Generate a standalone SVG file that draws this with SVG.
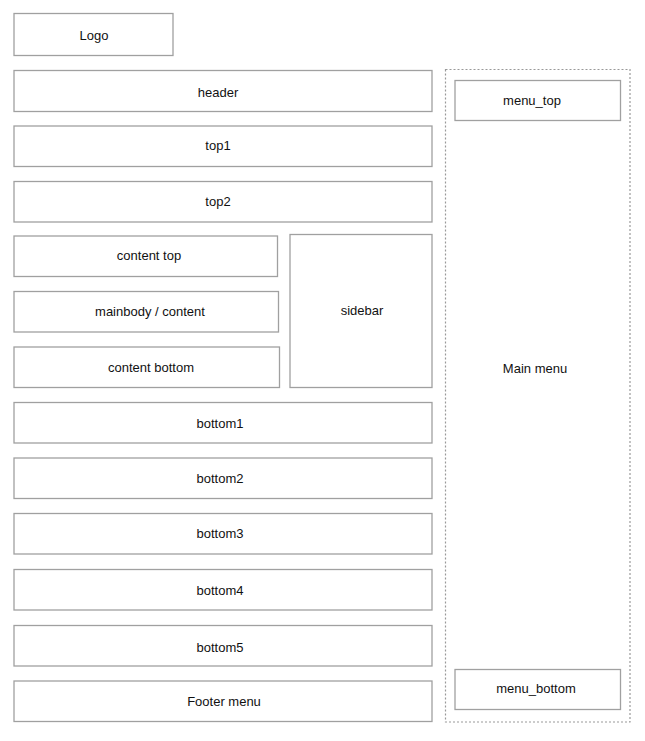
<svg xmlns="http://www.w3.org/2000/svg" width="645" height="741" viewBox="0 0 645 741">
<style>
.b{fill:#fff;stroke:#a0a0a0;stroke-width:1.3}
.d{fill:none;stroke:#999;stroke-width:1.2;stroke-dasharray:2 2}
text{font-family:"Liberation Sans",Arial,sans-serif;font-size:13px;fill:#111;text-anchor:middle;dominant-baseline:central}
</style>
<rect width="645" height="741" fill="#fff"/>
<g id="mainmenu"><rect class="d" x="445.5" y="69.5" width="184.5" height="652.5"/><text x="535" y="368">Main menu</text></g>
<g id="logo"><rect class="b" x="14" y="13.5" width="159" height="42"/><text x="94" y="35">Logo</text></g>
<g id="header"><rect class="b" x="14" y="70.5" width="418" height="41"/><text x="218" y="92">header</text></g>
<g id="top1"><rect class="b" x="14" y="126" width="418" height="40.5"/><text x="218" y="145">top1</text></g>
<g id="top2"><rect class="b" x="14" y="181.5" width="418" height="40.5"/><text x="218" y="201">top2</text></g>
<g id="contenttop"><rect class="b" x="14" y="236" width="263.5" height="40.5"/><text x="149" y="255">content top</text></g>
<g id="mainbody"><rect class="b" x="14" y="291.5" width="264.5" height="40.5"/><text x="150" y="311">mainbody / content</text></g>
<g id="contentbottom"><rect class="b" x="14" y="347" width="265.5" height="40.5"/><text x="151" y="367">content bottom</text></g>
<g id="sidebar"><rect class="b" x="290" y="234.5" width="142" height="153"/><text x="362" y="310">sidebar</text></g>
<g id="bottom1"><rect class="b" x="14" y="402.5" width="418" height="40.5"/><text x="220" y="423">bottom1</text></g>
<g id="bottom2"><rect class="b" x="14" y="458" width="418" height="40.5"/><text x="220" y="478">bottom2</text></g>
<g id="bottom3"><rect class="b" x="14" y="513.5" width="418" height="40.5"/><text x="220" y="533">bottom3</text></g>
<g id="bottom4"><rect class="b" x="14" y="569.5" width="418" height="40.5"/><text x="220" y="590">bottom4</text></g>
<g id="bottom5"><rect class="b" x="14" y="625.5" width="418" height="40.5"/><text x="220" y="647">bottom5</text></g>
<g id="footer"><rect class="b" x="14" y="681" width="418" height="40.5"/><text x="224" y="701">Footer menu</text></g>
<g id="menutop"><rect class="b" x="455" y="80.5" width="165.5" height="40"/><text x="532" y="100">menu_top</text></g>
<g id="menubottom"><rect class="b" x="455" y="669.5" width="165.5" height="40"/><text x="536" y="688">menu_bottom</text></g>
<g id="connectors"/>
</svg>
